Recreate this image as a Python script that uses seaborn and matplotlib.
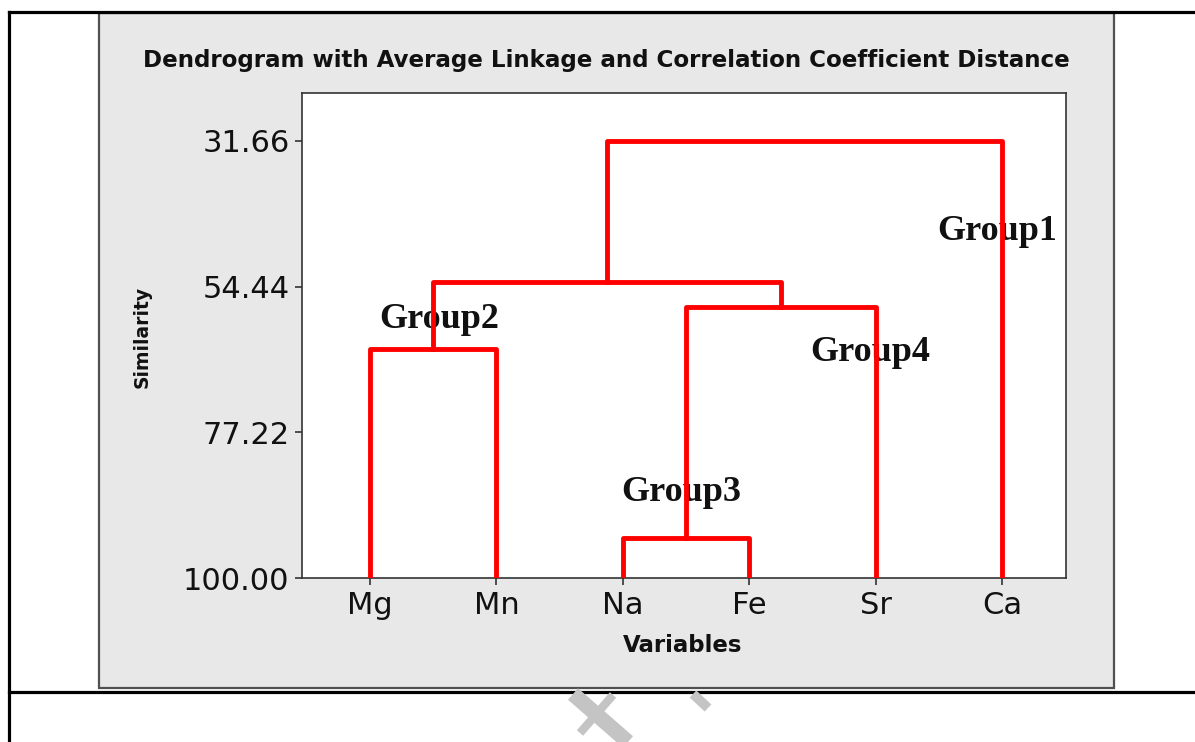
import numpy as np
import pandas as pd
import matplotlib
matplotlib.use("Agg")
import matplotlib.pyplot as plt
from matplotlib.patches import Rectangle
from matplotlib.lines import Line2D
import seaborn as sns

# ---- data ----
leaves = ["Mg", "Mn", "Na", "Fe", "Sr", "Ca"]
# merges: (left cluster, right cluster, similarity level)
merge_left = ["Mg", "Na", "NaFe", "MgMn", "MgMnNaFeSr"]
merge_right = ["Mn", "Fe", "Sr", "NaFeSr", "Ca"]
merge_names = ["MgMn", "NaFe", "NaFeSr", "MgMnNaFeSr", "All"]
merge_sim = [64.19, 93.74, 57.62, 53.71, 31.66]
ytick_vals = [31.66, 54.44, 77.22, 100.00]
ytick_labels = ["31.66", "54.44", "77.22", "100.00"]
group_labels = ["Group1", "Group2", "Group3", "Group4"]
group_x = [5.96, 1.546, 3.46, 4.956]
group_y = [45.8, 59.5, 86.7, 64.7]

# build dendrogram segments through a dataframe
pos = {name: float(i + 1) for i, name in enumerate(leaves)}
hgt = {name: 100.0 for name in leaves}
rows = []
for k, (l, r, nm, h) in enumerate(zip(merge_left, merge_right, merge_names, merge_sim)):
    pts = [(pos[l], hgt[l]), (pos[l], h), (pos[r], h), (pos[r], hgt[r])]
    for j, (x, y) in enumerate(pts):
        rows.append({"seg": k, "order": j, "x": x, "y": y})
    pos[nm] = (pos[l] + pos[r]) / 2
    hgt[nm] = h
df = pd.DataFrame(rows)

W, H = 1195, 742
fig = plt.figure(figsize=(W / 100, H / 100), dpi=100)
fig.patch.set_facecolor("white")

def fx(px):
    return px / W

def fy(py):
    return 1 - py / H

# grey panel
fig.patches.append(Rectangle((fx(99), fy(688)), (1114 - 99) / W, (688 - 13) / H,
                             transform=fig.transFigure, facecolor="#e8e8e8",
                             edgecolor="#505050", lw=1.6, zorder=-5))
# table lines
for (x0, y0, x1, y1) in [(9, 12, 1195, 12), (9, 12, 9, 742), (9, 692, 1195, 692)]:
    fig.lines.append(Line2D([fx(x0), fx(x1)], [fy(y0), fy(y1)], transform=fig.transFigure,
                            color="black", lw=2.3, zorder=-4))
# faint watermark strokes
for (x0, y0, x1, y1, lw) in [(573, 694, 628, 742, 11), (613, 695, 580, 733, 6), (693, 694, 708, 708, 7)]:
    fig.lines.append(Line2D([fx(x0), fx(x1)], [fy(y0), fy(y1)], transform=fig.transFigure,
                            color="#c4c4c4", lw=lw, zorder=-4, solid_capstyle="butt"))

ax = fig.add_axes([fx(302), fy(578), (1066 - 302) / W, (578 - 93) / H])
ax.set_zorder(2)
ax.set_facecolor("white")
sns.lineplot(data=df, x="x", y="y", units="seg", estimator=None, sort=False,
             color="#ff0000", lw=3.5, ax=ax, zorder=3)

ax.set_xlim(0.462, 6.506)
ax.set_ylim(100, 24.16)
ax.set_xticks(range(1, len(leaves) + 1))
ax.set_xticklabels(leaves)
ax.set_yticks(ytick_vals)
ax.set_yticklabels(ytick_labels)
ax.tick_params(axis="both", labelsize=22, colors="#333333", labelcolor="#111111",
               length=5, width=1.2)
ax.tick_params(axis="y", pad=4)
ax.tick_params(axis="x", pad=4)
for s in ax.spines.values():
    s.set_color("#333333")
    s.set_linewidth(1.2)
ax.set_xlabel("")
ax.set_ylabel("")

for t, x, y in zip(group_labels, group_x, group_y):
    ax.text(x, y, t, ha="center", va="center", fontsize=26, fontweight="bold",
            family="Liberation Serif", color="#111111", zorder=2)

fig.text(fx(606), fy(61), "Dendrogram with Average Linkage and Correlation Coefficient Distance",
         ha="center", va="center", fontsize=16.6, fontweight="bold", color="#111111")
fig.text(fx(683), fy(646), "Variables", ha="center", va="center", fontsize=16.5,
         fontweight="bold", color="#111111")
fig.text(fx(142), fy(337), "Similarity", ha="center", va="center", fontsize=13.5,
         fontweight="bold", rotation=90, color="#111111")

fig.savefig("out.png", dpi=100)
